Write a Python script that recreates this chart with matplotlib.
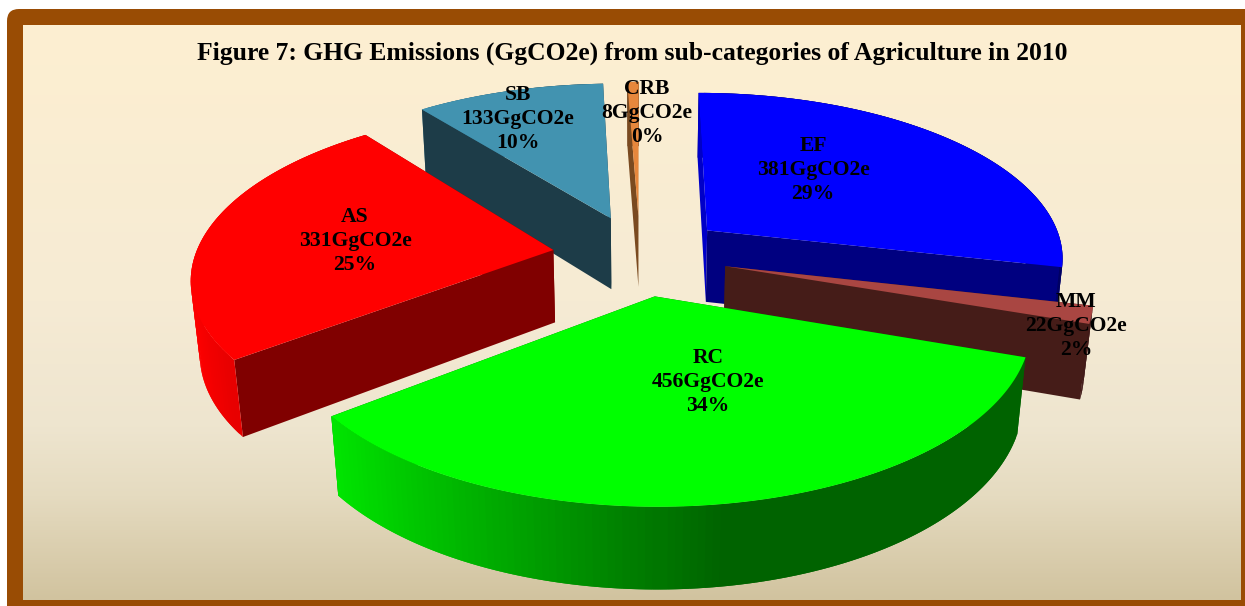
"""GHG emissions from agriculture sub-categories, drawn as an exploded 3D pie."""
import matplotlib
matplotlib.use("Agg")
import matplotlib.pyplot as plt
import numpy as np
from matplotlib.colors import LinearSegmentedColormap, to_rgb
from matplotlib.patches import FancyBboxPatch, Polygon

CATEGORIES = ["EF", "MM", "RC", "AS", "SB", "CRB"]
EMISSIONS = [381, 22, 456, 331, 133, 8]
PERCENT_LABELS = ["29%", "2%", "34%", "25%", "10%", "0%"]
TOP_COLORS = ["#0000ff", "#a94642", "#00ff00", "#ff0000", "#4293b0", "#e6873c"]
FACE_COLORS = ["#000080", "#451c18", "#006400", "#800000", "#1d3c48", "#7a4a20"]
START_WALL_COLORS = ["#0000c8", "#451c18", "#006400", "#800000", "#1d3c48", "#7a4a20"]
LABEL_XY = [(813, 170), (1076, 326), (708, 382), (355, 241), (518, 119), (647, 113)]
TITLE = "Figure 7: GHG Emissions (GgCO2e) from sub-categories of Agriculture in 2010"

# projection of the pie plane onto the figure, in pixels
CX, CY = 640, 255
RX, RY = 358, 165
DEPTH = 74
PERSP = 0.15
PERSP_Z = 0.02
EXPLODE = 0.245


def project(x, y, d=0.0):
    w = 1 + PERSP * y + PERSP_Z * d
    return CX + RX * x / w, CY + (-RY * y + DEPTH * d) / w


def arc_shade(theta):
    # lit from the left, flat dark on the right
    return np.clip(0.47 - 0.55 * np.sin(theta), 0.39, 1.0)


def draw_slice(ax, start, end, top, face, start_wall, zorder):
    mid = (start + end) / 2
    ox, oy = EXPLODE * np.sin(mid), EXPLODE * np.cos(mid)
    theta = np.linspace(start, end, max(3, int(np.degrees(end - start)) + 2))
    xs = ox + np.sin(theta)
    ys = oy + np.cos(theta)

    quads = []
    # radial walls
    for i, color in ((0, start_wall), (-1, face)):
        pts = [project(ox, oy), project(xs[i], ys[i]),
               project(xs[i], ys[i], 1), project(ox, oy, 1)]
        quads.append(((oy + ys[i]) / 2, pts, to_rgb(color)))
    # outer wall; each strip overlaps the next so no seams show
    base = np.array(to_rgb(top))
    n = len(theta)
    for i in range(n - 1):
        j = min(i + 2, n - 1)
        pts = [project(xs[i], ys[i]), project(xs[j], ys[j]),
               project(xs[j], ys[j], 1), project(xs[i], ys[i], 1)]
        shade = arc_shade((theta[i] + theta[i + 1]) / 2)
        quads.append(((ys[i] + ys[j]) / 2, pts, tuple(base * shade)))

    for _, pts, color in sorted(quads, key=lambda q: -q[0]):
        ax.add_patch(Polygon(pts, closed=True, facecolor=color, edgecolor="none",
                             zorder=zorder))
    outline = [project(ox, oy)] + [project(a, b) for a, b in zip(xs, ys)]
    ax.add_patch(Polygon(outline, closed=True, facecolor=top, edgecolor="none",
                         zorder=zorder))


def main():
    plt.rcParams["font.family"] = ["Liberation Serif", "DejaVu Serif"]
    fig = plt.figure(figsize=(12.45, 6.06), dpi=100)
    ax = fig.add_axes([0, 0, 1, 1])
    ax.set_xlim(0, 1245)
    ax.set_ylim(606, 0)
    ax.axis("off")

    # frame runs off the right and bottom edges
    ax.add_patch(FancyBboxPatch((7 + 12, 9 + 12), 1300, 700, zorder=0,
                                boxstyle="round,pad=12,rounding_size=12",
                                facecolor="#994c04", edgecolor="none"))
    cmap = LinearSegmentedColormap.from_list("panel", [
        (0.0, "#fdefd1"), (0.48, "#f6ebd4"), (0.7, "#eee5cf"),
        (0.82, "#e5dbc0"), (1.0, "#d1c39f")])
    ax.imshow(np.linspace(0, 1, 256)[:, None], cmap=cmap, aspect="auto",
              extent=(23, 1241, 600, 25), zorder=1)
    ax.set_xlim(0, 1245)
    ax.set_ylim(606, 0)

    fractions = np.array(EMISSIONS) / sum(EMISSIONS)
    edges = np.concatenate([[0], np.cumsum(fractions)]) * 2 * np.pi
    mids = (edges[:-1] + edges[1:]) / 2
    # back slices first
    order = np.argsort(-np.cos(mids))
    for z, i in enumerate(order):
        draw_slice(ax, edges[i], edges[i + 1], TOP_COLORS[i], FACE_COLORS[i],
                   START_WALL_COLORS[i], 2 + z)

    ax.text(632, 53, TITLE, ha="center", va="center", fontsize=18.45,
            fontweight="bold", color="black", zorder=20)
    for name, value, pct, (x, y) in zip(CATEGORIES, EMISSIONS, PERCENT_LABELS, LABEL_XY):
        ax.text(x, y, f"{name}\n{value}GgCO2e\n{pct}", ha="center", va="center",
                fontsize=15.6, fontweight="bold", color="black", linespacing=1.28,
                zorder=20)

    fig.savefig("out.png", dpi=100, facecolor="white")


if __name__ == "__main__":
    main()
